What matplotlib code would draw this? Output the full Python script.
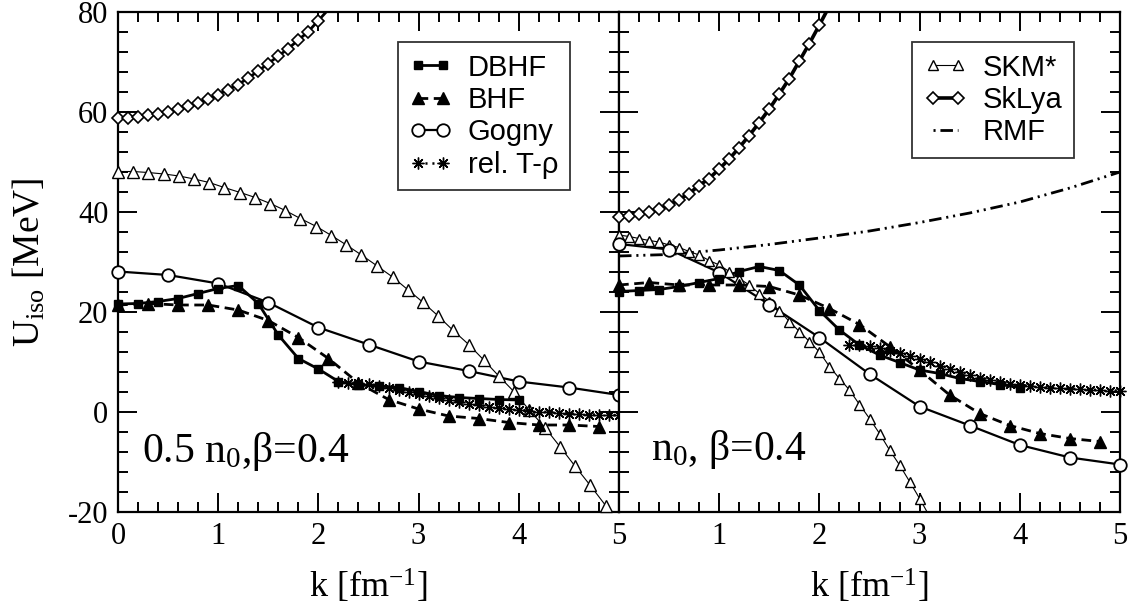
import matplotlib
matplotlib.use("Agg")
import matplotlib.pyplot as plt
from matplotlib.lines import Line2D
from matplotlib.ticker import MultipleLocator

# ---- data: k [fm^-1], U_iso [MeV] ----
# left panel: 0.5 n0, beta=0.4
dbhf_l_k = [0.0, 0.2, 0.4, 0.6, 0.8, 1.0, 1.2, 1.4, 1.6, 1.8, 2.0, 2.2, 2.4, 2.6, 2.8, 3.0, 3.2, 3.4, 3.6, 3.8, 4.0]
dbhf_l_u = [21.6, 21.7, 22.1, 22.7, 23.7, 24.7, 25.3, 21.7, 15.4, 10.7, 8.6, 6.1, 5.4, 5.2, 4.9, 4.1, 3.3, 2.9, 2.7, 2.5, 2.4]
bhf_l_k = [0.0, 0.3, 0.6, 0.9, 1.2, 1.5, 1.8, 2.1, 2.4, 2.7, 3.0, 3.3, 3.6, 3.9, 4.2, 4.5, 4.8]
bhf_l_u = [21.4, 21.7, 21.4, 21.4, 20.4, 18.3, 14.9, 10.7, 5.8, 2.5, 0.6, -0.8, -1.3, -2.1, -2.6, -2.6, -2.9]
gogny_l_k = [0.0, 0.5, 1.0, 1.5, 2.0, 2.5, 3.0, 3.5, 4.0, 4.5, 5.0]
gogny_l_u = [28.1, 27.4, 25.7, 21.9, 16.9, 13.5, 10.1, 8.2, 6.1, 4.9, 3.4]
trho_l_k = [2.2, 2.3, 2.4, 2.5, 2.6, 2.7, 2.8, 2.9, 3.0, 3.1, 3.2, 3.3, 3.4, 3.5, 3.6,
            3.7, 3.8, 3.9, 4.0, 4.1, 4.2, 4.3, 4.4, 4.5, 4.6, 4.7, 4.8, 4.9, 5.0]
trho_l_u = [6.0, 5.9, 5.8, 5.6, 5.2, 4.8, 4.4, 4.0, 3.6, 3.2, 2.8, 2.4, 2.0, 1.7, 1.4,
            1.1, 0.9, 0.7, 0.5, 0.3, 0.1, 0.0, -0.2, -0.3, -0.4, -0.5, -0.5, -0.6, -0.6]
skm_l_k = [0.00, 0.15, 0.30, 0.46, 0.61, 0.76, 0.91, 1.06, 1.22, 1.37, 1.52, 1.67, 1.82, 1.98, 2.13, 2.28, 2.43,
           2.58, 2.74, 2.89, 3.04, 3.19, 3.34, 3.50, 3.65, 3.80, 3.95, 4.10, 4.26, 4.41, 4.56, 4.71, 4.87]
skm_l_u = [48.1, 48.1, 47.9, 47.6, 47.2, 46.6, 45.9, 44.9, 43.9, 42.9, 41.7, 40.3, 38.7, 37.1, 35.3, 33.4, 31.4,
           29.3, 27.0, 24.5, 22.0, 19.3, 16.4, 13.5, 10.4, 7.2, 4.1, 0.5, -3.1, -6.9, -10.8, -14.6, -18.8]
sklya_l_k = [0.0, 0.1, 0.2, 0.3, 0.4, 0.5, 0.6, 0.7, 0.8, 0.9, 1.0, 1.1, 1.2, 1.3, 1.4, 1.5, 1.6, 1.7, 1.8, 1.9, 2.0, 2.1]
sklya_l_u = [58.9, 58.9, 59.1, 59.4, 59.7, 60.1, 60.6, 61.2, 61.9, 62.6, 63.5, 64.5, 65.5, 66.8, 68.2, 69.7,
             71.2, 72.7, 74.4, 76.1, 78.3, 80.5]

# right panel: n0, beta=0.4
dbhf_r_k = [0.0, 0.2, 0.4, 0.6, 0.8, 1.0, 1.2, 1.4, 1.6, 1.8, 2.0, 2.2, 2.4, 2.6, 2.8, 3.0, 3.2, 3.4, 3.6, 3.8, 4.0]
dbhf_r_u = [24.1, 24.3, 24.5, 25.1, 25.9, 26.7, 28.1, 29.1, 28.3, 25.4, 20.3, 16.4, 13.4, 11.4, 9.9, 8.4, 7.7, 6.7, 6.1, 5.5, 4.9]
bhf_r_k = [0.0, 0.3, 0.6, 0.9, 1.2, 1.5, 1.8, 2.1, 2.4, 2.7, 3.0, 3.3, 3.6, 3.9, 4.2, 4.5, 4.8]
bhf_r_u = [25.4, 25.9, 25.4, 25.4, 25.4, 25.1, 23.4, 20.7, 17.5, 13.1, 8.4, 3.4, -0.3, -2.7, -4.3, -5.3, -5.9]
gogny_r_k = [0.0, 0.5, 1.0, 1.5, 2.0, 2.5, 3.0, 3.5, 4.0, 4.5, 5.0]
gogny_r_u = [33.6, 32.5, 27.9, 21.5, 14.9, 7.6, 1.1, -2.7, -6.6, -9.1, -10.5]
trho_r_k = [2.3, 2.4, 2.5, 2.6, 2.7, 2.8, 2.9, 3.0, 3.1, 3.2, 3.3, 3.4, 3.5, 3.6,
            3.7, 3.8, 3.9, 4.0, 4.1, 4.2, 4.3, 4.4, 4.5, 4.6, 4.7, 4.8, 4.9, 5.0]
trho_r_u = [13.5, 13.4, 13.2, 12.8, 12.3, 11.9, 11.3, 10.6, 10.0, 9.3, 8.7, 8.0, 7.4, 6.9,
            6.4, 6.0, 5.7, 5.4, 5.2, 5.0, 4.9, 4.8, 4.7, 4.6, 4.5, 4.4, 4.3, 4.3]
skm_r_k = [0.0, 0.1, 0.2, 0.3, 0.4, 0.5, 0.6, 0.7, 0.8, 0.9, 1.0, 1.1, 1.2, 1.3, 1.4, 1.5,
           1.6, 1.7, 1.8, 1.9, 2.0, 2.1, 2.2, 2.3, 2.4, 2.5, 2.6, 2.7, 2.8, 2.9, 3.0, 3.1]
skm_r_u = [35.4, 35.1, 34.7, 34.3, 34.0, 33.4, 32.9, 32.1, 31.4, 30.3, 29.4, 28.1, 26.7, 25.4, 23.7, 22.1,
           20.3, 18.1, 16.1, 14.1, 12.0, 9.1, 6.7, 4.4, 1.5, -1.3, -4.3, -7.6, -10.6, -13.9, -17.3, -20.9]
sklya_r_k = [0.0, 0.1, 0.2, 0.3, 0.4, 0.5, 0.6, 0.7, 0.8, 0.9, 1.0, 1.1, 1.2, 1.3, 1.4, 1.5, 1.6, 1.7, 1.8, 1.9, 2.0, 2.1]
sklya_r_u = [39.1, 39.2, 39.6, 40.1, 40.6, 41.4, 42.5, 43.7, 45.3, 46.7, 48.6, 50.6, 52.9, 55.3, 57.9, 60.6,
             63.6, 66.7, 70.2, 73.7, 77.4, 81.2]
rmf_r_k = [0.0, 0.5, 1.0, 1.5, 2.0, 2.5, 3.0, 3.5, 4.0, 4.5, 5.0]
rmf_r_u = [31.2, 31.5, 32.4, 33.5, 34.8, 36.2, 37.9, 39.8, 42.0, 44.8, 48.0]

YMIN, YMAX = -20, 80

plt.rcParams.update({
    'font.family': 'Liberation Serif',
    'mathtext.fontset': 'custom',
    'mathtext.rm': 'Liberation Serif',
    'mathtext.it': 'Liberation Serif:italic',
    'axes.unicode_minus': False,
    'lines.scale_dashes': False,
})

# styles: line kwargs, marker kwargs
DASH = (0, (7, 4))
DOT = (0, (1.5, 3.5))
DADODO = (0, (9, 3.5, 1.5, 3.5, 1.5, 3.5))
S = {
    'DBHF':  dict(ls='-', lw=2.0, marker='s', ms=5.5, mfc='k', mec='k', mew=1),
    'BHF':   dict(ls=DASH, lw=2.0, marker='^', ms=8, mfc='k', mec='k', mew=1),
    'Gogny': dict(ls='-', lw=1.6, marker='o', ms=9, mfc='w', mec='k', mew=1.3),
    'trho':  dict(ls=DOT, lw=1.8, marker=(8, 2, 0), ms=8.5, mfc='k', mec='k', mew=1.0),
    'SKM':   dict(ls='-', lw=0.8, marker='^', ms=7.5, mfc='w', mec='k', mew=1.0),
    'SkLya': dict(ls='-', lw=2.0, marker='D', ms=6, mfc='w', mec='k', mew=1.2),
    'RMF':   dict(ls=DADODO, lw=2.0, marker='None'),
}


def curve(ax, k, u, st, ms=None):
    st = dict(st)
    if ms is not None:
        st['ms'] = ms
    ax.plot(k, u, color='k', ls=st['ls'], lw=st['lw'], zorder=2)
    if st['marker'] != 'None':
        kk = [a for a, b in zip(k, u) if YMIN - 0.5 <= b <= YMAX]
        uu = [b for b in u if YMIN - 0.5 <= b <= YMAX]
        ax.plot(kk, uu, ls='none', marker=st['marker'], ms=st['ms'], mfc=st['mfc'],
                mec=st['mec'], mew=st['mew'], clip_on=False, zorder=3)


def handle(st):
    return Line2D([], [], color='k', ls=st['ls'], lw=st['lw'], marker=st['marker'],
                  ms=st.get('ms', 0), mfc=st.get('mfc', 'k'), mec=st.get('mec', 'k'),
                  mew=st.get('mew', 1))


fig = plt.figure(figsize=(11.35, 6.09), dpi=100)
axL = fig.add_axes([118 / 1135, 97 / 609, 501 / 1135, 500 / 609])
axR = fig.add_axes([619 / 1135, 97 / 609, 501 / 1135, 500 / 609])

curve(axL, sklya_l_k, sklya_l_u, S['SkLya'])
curve(axL, skm_l_k, skm_l_u, S['SKM'], ms=8)
curve(axL, trho_l_k, trho_l_u, S['trho'])
curve(axL, bhf_l_k, bhf_l_u, S['BHF'])
curve(axL, gogny_l_k, gogny_l_u, S['Gogny'])
curve(axL, dbhf_l_k, dbhf_l_u, S['DBHF'])

curve(axR, sklya_r_k, sklya_r_u, dict(S['SkLya'], lw=2.6))
curve(axR, rmf_r_k, rmf_r_u, S['RMF'])
curve(axR, skm_r_k, skm_r_u, S['SKM'], ms=7)
curve(axR, trho_r_k, trho_r_u, S['trho'])
curve(axR, bhf_r_k, bhf_r_u, S['BHF'])
curve(axR, gogny_r_k, gogny_r_u, S['Gogny'])
curve(axR, dbhf_r_k, dbhf_r_u, S['DBHF'])

for ax in (axL, axR):
    ax.set_xlim(0, 5)
    ax.set_ylim(YMIN, YMAX)
    ax.xaxis.set_major_locator(MultipleLocator(1))
    ax.xaxis.set_minor_locator(MultipleLocator(0.2))
    ax.yaxis.set_major_locator(MultipleLocator(20))
    ax.yaxis.set_minor_locator(MultipleLocator(4))
    ax.tick_params(which='both', direction='in', top=True, right=True, width=1.4,
                   labelsize=22, pad=7)
    ax.tick_params(which='major', length=14)
    ax.tick_params(which='minor', length=7)
    for sp in ax.spines.values():
        sp.set_linewidth(1.6)
    ax.set_xlabel('k [fm$^{-1}$]', fontsize=26)
    ax.xaxis.set_label_coords(0.5, -0.112)

axL.set_yticks([-20, 0, 20, 40, 60, 80])
axL.set_yticklabels(['-20', '0', '20', '40', '60', '80'])
axL.set_xticks([0, 1, 2, 3, 4, 5])
axL.set_xticklabels(['0', '1', '2', '3', '4', '5'])
axR.set_yticklabels([])
axR.set_xticks([0, 1, 2, 3, 4, 5])
axR.set_xticklabels(['', '1', '2', '3', '4', '5'])
axL.set_ylabel('U$_{\\rm iso}$ [MeV]', fontsize=27)
axL.yaxis.set_label_coords(-0.14, 0.5)

axL.text(0.24, -10, '0.5 n$_0$,\u03b2=0.4', fontsize=30, va='baseline')
axR.text(0.32, -9.6, 'n$_0$, \u03b2=0.4', fontsize=30, va='baseline')

leg_kw = dict(frameon=True, fancybox=False, numpoints=2, handlelength=1.45, handletextpad=0.55,
              labelspacing=0.15, borderpad=0.4, borderaxespad=0,
              prop={'family': 'Liberation Sans', 'size': 21})
lgL = axL.legend([handle(S['DBHF']), handle(S['BHF']), handle(S['Gogny']), handle(S['trho'])],
                 ['DBHF', 'BHF', 'Gogny', 'rel. T-\u03c1'], loc='upper right',
                 bbox_to_anchor=(0.902, 0.94), **leg_kw)
# legend sample of RMF starts on a dot, as in the original
rmf_handle = handle(dict(S['RMF'], ls=(17.5, (9, 3.5, 1.5, 3.5, 1.5, 3.5))))
lgR = axR.legend([handle(S['SKM']), handle(dict(S['SkLya'], lw=2.6)), rmf_handle],
                 ['SKM*', 'SkLya', 'RMF'], loc='upper right',
                 bbox_to_anchor=(0.908, 0.94), **leg_kw)
for lg in (lgL, lgR):
    lg.get_frame().set_edgecolor('k')
    lg.get_frame().set_linewidth(1.3)

fig.savefig('out.png', dpi=100)
